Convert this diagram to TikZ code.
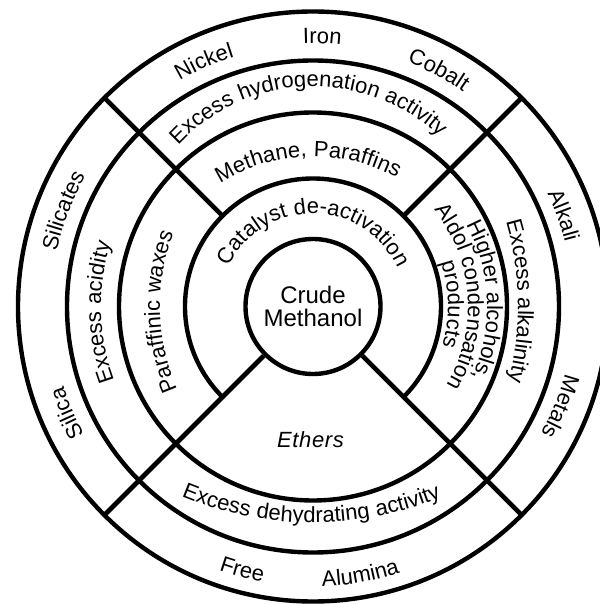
\documentclass[tikz,border=0pt]{standalone}
\usepackage{fontspec}
\setmainfont{Liberation Sans}
\newfontfamily\lblfamily{Liberation Sans}[LetterSpace=3]
\usetikzlibrary{decorations.text}
\newcommand\lbl{\lblfamily\fontsize{22}{26}\selectfont}
% text along an arc centred at (#1,#2) of radius #3, centred on angle #4
% clockwise: letter tops point outward
\newcommand\cwtext[5]{%
  \path[decorate,decoration={text along path,text align=center,text={|\lbl|#5}}]
    ([shift={(#1pt,#2pt)}]#4+80:#3pt) arc[start angle=#4+80, end angle=#4-80, radius=#3pt];}
% counter-clockwise: letter tops point inward
\newcommand\ccwtext[5]{%
  \path[decorate,decoration={text along path,text align=center,text={|\lbl|#5}}]
    ([shift={(#1pt,#2pt)}]#4-80:#3pt) arc[start angle=#4-80, end angle=#4+80, radius=#3pt];}
\begin{document}
\begin{tikzpicture}[
  ring/.style={draw=black, line width=4.4pt},
  divider/.style={draw=black, line width=4.6pt}]
\path[fill=white,use as bounding box] (-313pt,-297.5pt) rectangle (286pt,306.5pt);

% rings
\draw[ring] (0,0) circle[radius=295pt];
\draw[ring] (0,0) circle[radius=246pt];
\draw[ring] (0,0) circle[radius=194pt];
\draw[ring] (-45:128pt) arc[start angle=-45, end angle=225, radius=128pt];

% centre
\node[circle, ring, minimum size=135pt, inner sep=0pt, align=center,
      font=\fontsize{24}{23}\selectfont] (crude) at (0,0) {Crude\\Methanol};

% divider end points
\coordinate (a45)  at (45:128pt);
\coordinate (b45)  at (45:295pt);
\coordinate (a135) at (135:128pt);
\coordinate (b135) at (135:295pt);
\coordinate (b225) at (225:295pt);
\coordinate (b315) at (315:295pt);
\draw[divider] (a45) -- (b45);
\draw[divider] (a135) -- (b135);
\draw[divider] (crude.225) -- (b225);
\draw[divider] (crude.315) -- (b315);

% outer ring labels
\cwtext{0}{0}{262}{114}{Nickel}
\cwtext{0}{0}{263}{88}{Iron}
\cwtext{0}{0}{262}{62}{Cobalt}
\cwtext{0}{0}{262}{159}{Silicates}
\cwtext{0}{0}{262}{203.5}{Silica}
\cwtext{0}{0}{260}{20}{Alkali}
\cwtext{0}{0}{261}{-22}{Metals}
\ccwtext{0}{0}{280}{255}{Free}
\ccwtext{0}{0}{280}{280}{Alumina}

% third ring
\cwtext{0}{36}{184}{91.8}{Excess hydrogenation activity}
\cwtext{0}{0}{212}{181.5}{Excess acidity}
\cwtext{-100}{0}{305}{1}{Excess alkalinity}
\ccwtext{0}{124}{340}{269.7}{Excess dehydrating activity}

% second ring
\cwtext{0}{-24.5}{174.5}{91.7}{Methane, Paraffins}
\cwtext{52.6}{0}{205.6}{181.5}{Paraffinic waxes}
\cwtext{0}{0}{174}{2}{Higher alcohols,}
\cwtext{0}{0}{155}{4}{Aldol condensation}
\cwtext{0}{0}{135}{1}{products}

% inner ring
\cwtext{0}{0}{93}{89.5}{Catalyst de-activation}

\node[font=\lbl\itshape] (ethers) at (-2.5pt,-133pt) {Ethers};
\end{tikzpicture}
\end{document}
